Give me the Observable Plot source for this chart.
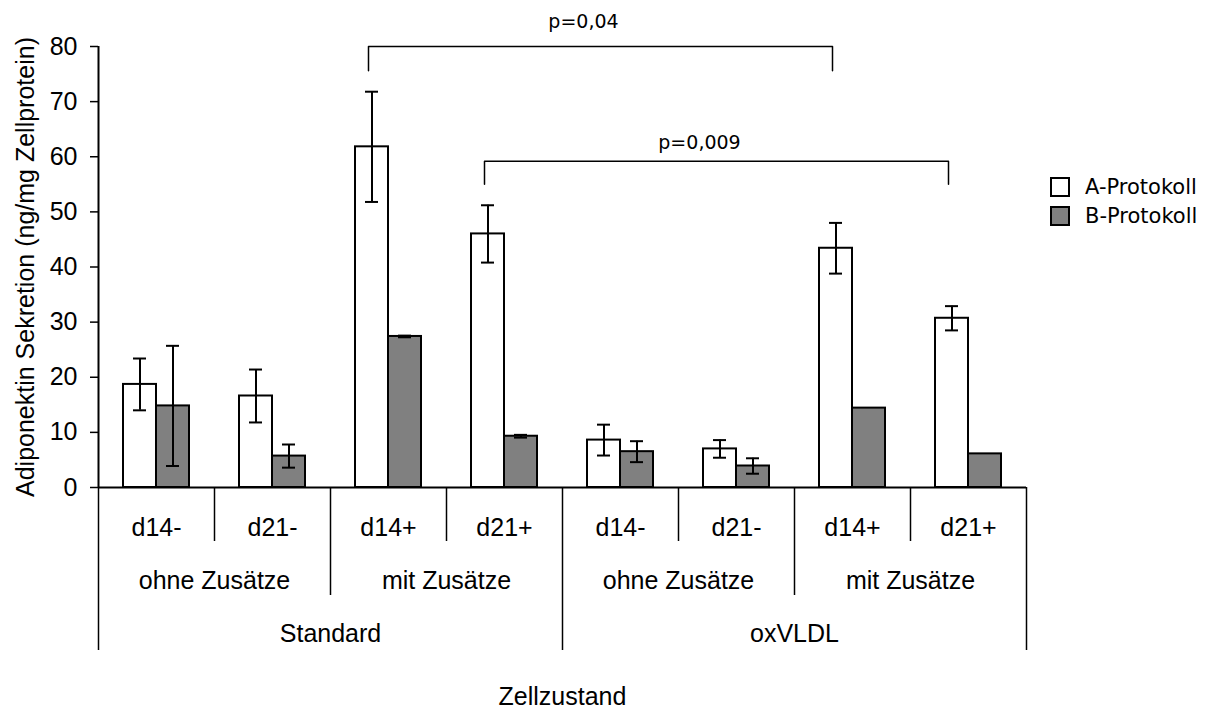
<!DOCTYPE html>
<html>
<head>
<meta charset="utf-8">
<script src="https://cdn.jsdelivr.net/npm/d3@7"></script>
<script src="https://cdn.jsdelivr.net/npm/@observablehq/plot@0.6"></script>
<style>
  body { margin: 0; background: #fff; }
  #wrap { position: relative; width: 1207px; height: 708px; }
  #legend { position: absolute; left: 1050px; top: 172px; font-family: "DejaVu Sans", Verdana, sans-serif; font-size: 21px; color: #000; }
  .item { display: flex; align-items: center; height: 29px; }
  .sw { width: 16px; height: 16px; border: 2px solid #000; margin-right: 15px; }
</style>
</head>
<body>
<div id="wrap"><div id="legend"></div></div>
<script>
// ---- data ----
const zustand  = ["Standard","Standard","Standard","Standard","oxVLDL","oxVLDL","oxVLDL","oxVLDL"];
const zusaetze = ["ohne Zusätze","ohne Zusätze","mit Zusätze","mit Zusätze","ohne Zusätze","ohne Zusätze","mit Zusätze","mit Zusätze"];
const tag      = ["d14-","d21-","d14+","d21+","d14-","d21-","d14+","d21+"];
const serien   = ["A-Protokoll","B-Protokoll"];
const protokollA = [18.7, 16.6, 61.8, 46.0, 8.6, 7.0, 43.4, 30.7];
const fehlerA    = [4.7, 4.8, 10.0, 5.2, 2.8, 1.6, 4.6, 2.2];
const protokollB = [14.8, 5.7, 27.4, 9.3, 6.5, 3.9, 14.4, 6.1];
const fehlerB    = [10.9, 2.1, 0.15, 0.25, 1.9, 1.4, null, null];
const yTicks = [0, 10, 20, 30, 40, 50, 60, 70, 80];
// significance brackets
const pText   = ["p=0,04", "p=0,009"];
const pFrom   = [2, 3];
const pTo     = [6, 7];
const pTop    = [80, 59.2];
const pLeg    = [75.6, 55.0];
const pLabelY = [84.4, 62.6];
const yTitle = "Adiponektin Sekretion (ng/mg Zellprotein)";
const xTitle = "Zellzustand";

// ---- layout ----
const W = 1207, H = 708, mL = 98, mR = 181, mT = 46, mB = 221;
const n = tag.length;
const bw = (W - mL - mR) / n;
const barW = 33;
const outer = (bw - 2 * barW) / 2;
const aDx = outer + barW / 2 - bw / 2;
const bDx = -aDx;
const capHalf = 6.5;
const frameH = H - mT - mB;
const depth = {1: 54, 2: 108, 3: 163};
const FS = 25;

const keys = tag.map((t, i) => `${zustand[i]}|${zusaetze[i]}|${t}`);
const rowsA = keys.map((k, i) => ({key: k, v: protokollA[i], e: fehlerA[i]}));
const rowsB = keys.map((k, i) => ({key: k, v: protokollB[i], e: fehlerB[i]}));
const errA = rowsA.filter(d => d.e != null);
const errB = rowsB.filter(d => d.e != null);

const level = keys.map((k, i) => (i === 0 || zustand[i] !== zustand[i - 1]) ? 3 : (zusaetze[i] !== zusaetze[i - 1]) ? 2 : 1);

function runs(arrs) {
  const out = []; let s = 0;
  for (let i = 1; i <= n; i++) {
    if (i === n || arrs.some(a => a[i] !== a[s])) { out.push({start: s, end: i - 1, label: arrs[arrs.length - 1][s]}); s = i; }
  }
  return out.map(r => ({key: keys[r.start + (r.end - r.start + 1) / 2 - 1], label: r.label}));
}
const lvl1 = keys.map((k, i) => ({key: k, label: tag[i]}));
const lvl2 = runs([zustand, zusaetze]);
const lvl3 = runs([zustand]);

const brackets = pText.flatMap((t, b) => [
  {b, key: keys[pFrom[b]], y: pLeg[b]},
  {b, key: keys[pFrom[b]], y: pTop[b]},
  {b, key: keys[pTo[b]], y: pTop[b]},
  {b, key: keys[pTo[b]], y: pLeg[b]}
]);
const pLabels = pText.map((t, b) => ({key: keys[pFrom[b]], text: t, y: pLabelY[b]}));
const bracketDx = aDx - 3.5;

const black = "black";
const marks = [
  Plot.barY(rowsA, {x: "key", y: "v", fill: "white", stroke: black, strokeWidth: 2, insetLeft: outer, insetRight: bw - outer - barW}),
  Plot.barY(rowsB, {x: "key", y: "v", fill: "#808080", stroke: black, strokeWidth: 2, insetLeft: outer + barW, insetRight: outer}),
  // error bars
  Plot.ruleX(errA, {x: "key", y1: d => d.v - d.e, y2: d => d.v + d.e, dx: aDx, stroke: black, strokeWidth: 2}),
  Plot.ruleX(errB, {x: "key", y1: d => d.v - d.e, y2: d => d.v + d.e, dx: bDx, stroke: black, strokeWidth: 2}),
  ...["+", "-"].map(s => Plot.tickY(errA, {x: "key", y: d => s === "+" ? d.v + d.e : d.v - d.e, stroke: black, strokeWidth: 2,
      insetLeft: outer + barW / 2 - capHalf, insetRight: bw - (outer + barW / 2 + capHalf)})),
  ...["+", "-"].map(s => Plot.tickY(errB, {x: "key", y: d => s === "+" ? d.v + d.e : d.v - d.e, stroke: black, strokeWidth: 2,
      insetLeft: outer + barW + barW / 2 - capHalf, insetRight: outer + barW / 2 - capHalf})),
  // axes lines
  Plot.ruleY([0], {stroke: black, strokeWidth: 2}),
  Plot.ruleX([keys[0]], {dx: -bw / 2, stroke: black, strokeWidth: 2}),
  Plot.axisY({ticks: yTicks, tickSize: 8, tickPadding: 13, label: null, fontSize: FS, stroke: black, strokeWidth: 1.5}),
  // hierarchical x axis separators
  ...[1, 2, 3].map(l => Plot.ruleX(keys.filter((k, i) => level[i] === l), {dx: -bw / 2, insetTop: frameH, insetBottom: -depth[l], stroke: black, strokeWidth: 1.5})),
  Plot.ruleX([keys[n - 1]], {dx: bw / 2, insetTop: frameH, insetBottom: -depth[3], stroke: black, strokeWidth: 1.5}),
  Plot.text(lvl1, {x: "key", text: "label", frameAnchor: "bottom", lineAnchor: "middle", dy: 40, fontSize: FS}),
  Plot.text(lvl2, {x: "key", text: "label", frameAnchor: "bottom", lineAnchor: "middle", dy: 93, dx: bw / 2, fontSize: FS}),
  Plot.text(lvl3, {x: "key", text: "label", frameAnchor: "bottom", lineAnchor: "middle", dy: 146, dx: bw / 2, fontSize: FS}),
  Plot.text([xTitle], {frameAnchor: "bottom", lineAnchor: "middle", dy: 209, fontSize: FS}),
  Plot.text([yTitle], {frameAnchor: "left", textAnchor: "middle", lineAnchor: "middle", dx: -73, rotate: -90, fontSize: FS}),
  // significance brackets
  Plot.line(brackets, {x: "key", y: "y", z: "b", dx: bracketDx, stroke: black, strokeWidth: 1.5}),
  Plot.text(pLabels, {x: "key", y: "y", text: "text", dx: bracketDx + 2 * bw - 17, fontFamily: "DejaVu Sans, Verdana, sans-serif", fontSize: 19})
];

const chart = Plot.plot({
  width: W, height: H,
  marginLeft: mL, marginRight: mR, marginTop: mT, marginBottom: mB,
  x: {domain: keys, padding: 0, round: false, axis: null},
  y: {domain: [0, 80], axis: null},
  style: {fontFamily: '"Liberation Sans", Arial, sans-serif', fontSize: FS + "px", color: "black", background: "white", overflow: "visible"},
  marks
});
document.getElementById("wrap").prepend(chart);

// legend
const fills = {"A-Protokoll": "white", "B-Protokoll": "#808080"};
const lg = document.getElementById("legend");
serien.forEach(s => {
  const it = document.createElement("div"); it.className = "item";
  const sw = document.createElement("div"); sw.className = "sw"; sw.style.background = fills[s];
  const tx = document.createElement("span"); tx.textContent = s;
  it.append(sw, tx); lg.append(it);
});
</script>
</body>
</html>
